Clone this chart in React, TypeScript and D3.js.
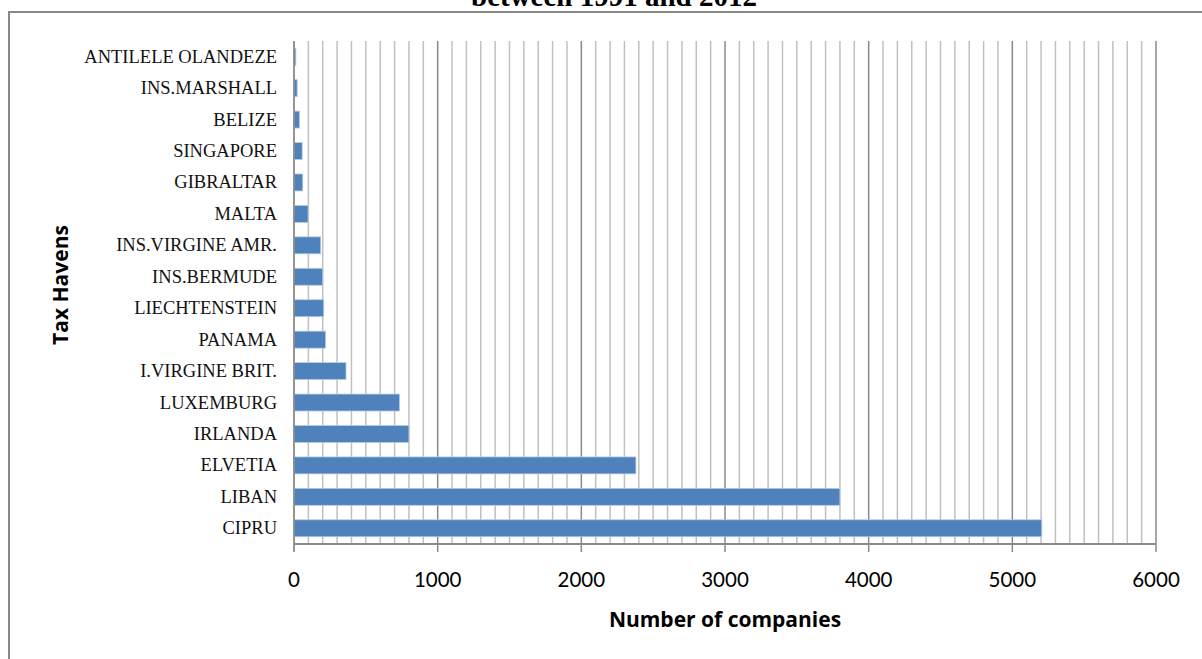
import React from "react";
import * as d3 from "d3";

const categories = [
  "ANTILELE OLANDEZE",
  "INS.MARSHALL",
  "BELIZE",
  "SINGAPORE",
  "GIBRALTAR",
  "MALTA",
  "INS.VIRGINE AMR.",
  "INS.BERMUDE",
  "LIECHTENSTEIN",
  "PANAMA",
  "I.VIRGINE BRIT.",
  "LUXEMBURG",
  "IRLANDA",
  "ELVETIA",
  "LIBAN",
  "CIPRU",
];
const companies = [13, 22, 38, 57, 61, 98, 186, 200, 207, 220, 362, 735, 800, 2380, 3800, 5205];
const majorTicks = [0, 1000, 2000, 3000, 4000, 5000, 6000];

const W = 1202;
const H = 659;
const PLOT = { left: 294, right: 1156, top: 41, bottom: 544 };
const BAR_COLOR = "#4f81bd";

export default function App() {
  const x = d3.scaleLinear().domain([0, 6000]).range([PLOT.left, PLOT.right]);
  const y = d3
    .scaleBand<string>()
    .domain(categories)
    .range([PLOT.top, PLOT.bottom])
    .paddingInner(0.46)
    .paddingOuter(0.23);
  const minorTicks = x.ticks(60).filter((t) => t % 1000 !== 0);
  const serif = "'Liberation Serif', 'Times New Roman', serif";
  const sans = "Lato, 'Open Sans', sans-serif";
  const sansBold = "'Open Sans', Lato, sans-serif";

  return (
    <svg
      width={W}
      height={H}
      style={{ position: "absolute", left: 0, top: 0, background: "#fff" }}
    >
      {/* chart frame, runs off the right and bottom edges */}
      <rect x={9} y={12} width={1220} height={700} fill="none" stroke="#888" strokeWidth={2} />

      <text
        x={614}
        y={6}
        textAnchor="middle"
        fontFamily={serif}
        fontWeight="bold"
        fontSize={29}
        fill="#000"
      >
        between 1991 and 2012
      </text>

      {/* gridlines */}
      {minorTicks.map((t) => (
        <line key={`m${t}`} x1={x(t)} x2={x(t)} y1={PLOT.top} y2={PLOT.bottom} stroke="#c0c0c0" strokeWidth={1.5} />
      ))}
      {majorTicks.slice(1).map((t) => (
        <line key={`M${t}`} x1={x(t)} x2={x(t)} y1={PLOT.top} y2={PLOT.bottom + 8} stroke="#8a8a8a" strokeWidth={1.5} />
      ))}

      {/* bars */}
      {categories.map((c, i) => (
        <rect
          key={c}
          x={x(0)}
          y={y(c)}
          width={x(companies[i]) - x(0)}
          height={y.bandwidth()}
          fill={BAR_COLOR}
          stroke="#b9cde5"
          strokeWidth={0.8}
        />
      ))}

      {/* axes */}
      <line x1={x(0)} x2={x(0)} y1={PLOT.top} y2={PLOT.bottom + 8} stroke="#8a8a8a" strokeWidth={1.8} />
      <line x1={x(0)} x2={x(6000)} y1={PLOT.bottom} y2={PLOT.bottom} stroke="#8a8a8a" strokeWidth={1.8} />

      {categories.map((c) => (
        <text
          key={`l${c}`}
          x={277}
          y={(y(c) ?? 0) + y.bandwidth() / 2 + 6}
          textAnchor="end"
          fontFamily={serif}
          fontSize={18.5}
          fill="#111"
        >
          {c}
        </text>
      ))}

      {majorTicks.map((t) => (
        <text key={`t${t}`} x={x(t)} y={587} textAnchor="middle" fontFamily={sans} fontSize={20.5} fill="#000">
          {t}
        </text>
      ))}

      <text x={725} y={627} textAnchor="middle" fontFamily={sansBold} fontWeight="bold" fontSize={21} fill="#000">
        Number of companies
      </text>
      <text
        transform={`translate(68,285) rotate(-90)`}
        textAnchor="middle"
        fontFamily={sansBold}
        fontWeight="bold"
        fontSize={21}
        fill="#000"
      >
        Tax Havens
      </text>
    </svg>
  );
}
